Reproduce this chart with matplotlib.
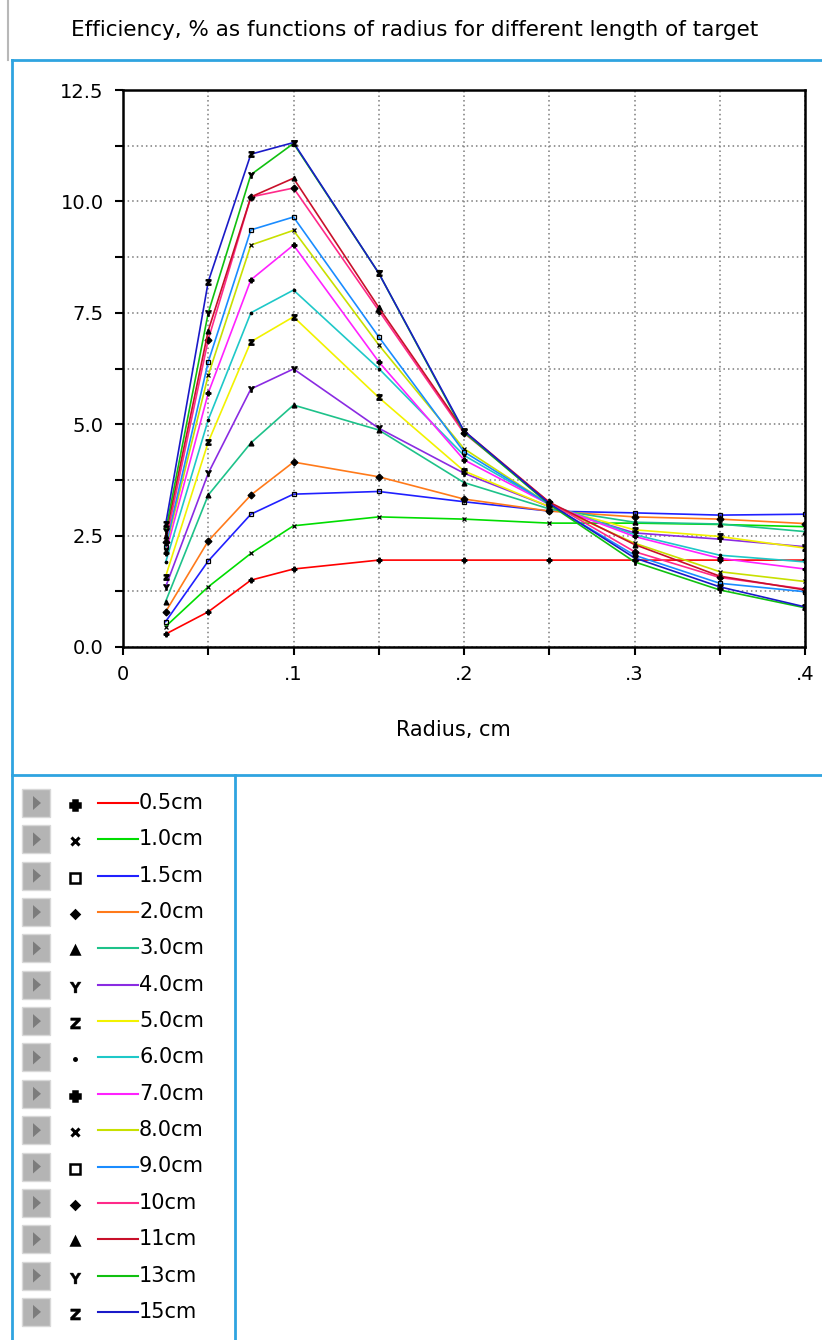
import numpy as np
import matplotlib.pyplot as plt
from matplotlib.patches import Rectangle, Polygon
from matplotlib.ticker import FixedLocator, FixedFormatter


plt.rcParams["font.family"] = ["DejaVu Sans"]

# radius values (cm) at which efficiency was computed
radius = [0.025, 0.05, 0.075, 0.1, 0.15, 0.2, 0.25, 0.3, 0.35, 0.4]

# target lengths
target_labels = ["0.5cm", "1.0cm", "1.5cm", "2.0cm", "3.0cm", "4.0cm", "5.0cm",
                 "6.0cm", "7.0cm", "8.0cm", "9.0cm", "10cm", "11cm", "13cm", "15cm"]

# efficiency, %
eff_0_5 = [0.29, 0.79, 1.50, 1.75, 1.95, 1.95, 1.95, 1.95, 1.95, 1.95]
eff_1_0 = [0.46, 1.35, 2.10, 2.72, 2.92, 2.87, 2.78, 2.78, 2.75, 2.70]
eff_1_5 = [0.57, 1.93, 2.98, 3.43, 3.49, 3.26, 3.05, 3.01, 2.96, 2.98]
eff_2_0 = [0.79, 2.38, 3.41, 4.15, 3.82, 3.32, 3.05, 2.92, 2.87, 2.77]
eff_3_0 = [1.02, 3.41, 4.58, 5.43, 4.87, 3.69, 3.10, 2.80, 2.76, 2.59]
eff_4_0 = [1.35, 3.90, 5.79, 6.24, 4.91, 3.90, 3.15, 2.56, 2.42, 2.25]
eff_5_0 = [1.58, 4.60, 6.85, 7.41, 5.60, 3.95, 3.15, 2.63, 2.48, 2.22]
eff_6_0 = [1.90, 5.10, 7.50, 8.01, 6.25, 4.30, 3.20, 2.52, 2.06, 1.91]
eff_7_0 = [2.10, 5.70, 8.24, 9.02, 6.40, 4.20, 3.20, 2.48, 1.99, 1.75]
eff_8_0 = [2.20, 6.10, 9.02, 9.35, 6.78, 4.45, 3.20, 2.33, 1.69, 1.47]
eff_9_0 = [2.25, 6.40, 9.36, 9.65, 6.96, 4.38, 3.20, 2.06, 1.43, 1.24]
eff_10 = [2.35, 6.90, 10.10, 10.30, 7.55, 4.80, 3.25, 2.14, 1.56, 1.30]
eff_11 = [2.50, 7.10, 10.10, 10.52, 7.62, 4.85, 3.25, 2.30, 1.59, 1.28]
eff_13 = [2.60, 7.50, 10.60, 11.30, 8.39, 4.82, 3.20, 1.91, 1.28, 0.88]
eff_15 = [2.75, 8.20, 11.06, 11.32, 8.39, 4.85, 3.22, 2.00, 1.35, 0.90]

series = [eff_0_5, eff_1_0, eff_1_5, eff_2_0, eff_3_0, eff_4_0, eff_5_0, eff_6_0,
          eff_7_0, eff_8_0, eff_9_0, eff_10, eff_11, eff_13, eff_15]

colors = ["#ff0000", "#00dd00", "#2020ff", "#ff7a1a", "#1ec28a", "#8a2be2", "#f2f200",
          "#1ec8c8", "#ff22ff", "#c8e000", "#1a8cff", "#ff2a8a", "#c8102a", "#10c010",
          "#1a1ac8"]
markers = ["P", "x", "s", "D", "^", r"$\mathbf{Y}$", r"$\mathbf{z}$", "."]
# legend marker sizes, per marker kind
leg_msize = [7, 6, 6.5, 4.5, 6, 8, 8, 3.5]

W, H = 822, 1340
fig = plt.figure(figsize=(W / 100, H / 100), dpi=100)

# window decorations drawn in pixel coordinates
deco = fig.add_axes([0, 0, 1, 1])
deco.set_xlim(0, W)
deco.set_ylim(H, 0)
deco.axis("off")

panel_blue = "#2fa4e0"
deco.plot([8, 8], [0, 60], color="#b8b8b8", lw=1.5)
deco.plot([12, W], [60, 60], color=panel_blue, lw=2)
deco.plot([12, 12], [60, H], color=panel_blue, lw=2)
deco.plot([12, W], [775, 775], color=panel_blue, lw=2)
deco.plot([235, 235], [775, H], color=panel_blue, lw=2)

fig.text(415 / W, 1 - 30 / H, "Efficiency, % as functions of radius for different length of target",
         ha="center", va="center", fontsize=15.5)
fig.text(453 / W, 1 - 730 / H, "Radius, cm", ha="center", va="center", fontsize=15)

# main chart
ax = fig.add_axes([123 / W, 1 - 647 / H, 682 / W, 557 / H])
for i, vals in enumerate(series):
    m = markers[i % len(markers)]
    ax.plot(radius, vals, color=colors[i], lw=1.2, marker=m,
            markersize=4 if m.startswith("$") else 3.5, markeredgewidth=0.9,
            markeredgecolor="black",
            markerfacecolor="none" if m == "s" else "black", zorder=3)

ax.set_xlim(0, 0.4)
ax.set_ylim(0, 12.5)

xt = np.arange(0, 0.4001, 0.05)
xl = ["0", "", ".1", "", ".2", "", ".3", "", ".4"]
ax.xaxis.set_major_locator(FixedLocator(xt))
ax.xaxis.set_major_formatter(FixedFormatter(xl))
yt = np.arange(0, 12.5001, 1.25)
yl = ["%.1f" % v if i % 2 == 0 else "" for i, v in enumerate(yt)]
ax.yaxis.set_major_locator(FixedLocator(yt))
ax.yaxis.set_major_formatter(FixedFormatter(yl))

ax.grid(True, color="#7a7a7a", linestyle=(0, (1, 2)), lw=1.1)
ax.tick_params(direction="out", length=6, width=1.5, labelsize=14, pad=8)
ax.tick_params(axis="x", pad=7)
for s in ax.spines.values():
    s.set_linewidth(1.8)

# legend panel
row0, step = 803, 36.35
for i, lab in enumerate(target_labels):
    yc = row0 + i * step
    k = i % len(markers)
    deco.add_patch(Rectangle((22, yc - 14), 28, 28, facecolor="#b4b4b4",
                             edgecolor="#d8d8d8", lw=1))
    deco.add_patch(Polygon([[33, yc - 7], [33, yc + 7], [41, yc]], closed=True,
                           facecolor="#7c7c7c", edgecolor="none"))
    deco.plot([75], [yc + 2], marker=markers[k], color="black", markersize=leg_msize[k],
              markeredgewidth=2.2 if markers[k] == "x" else (0.3 if markers[k].startswith("$") else 1.8),
              markerfacecolor="none" if markers[k] == "s" else "black")
    deco.plot([98, 138], [yc, yc], color=colors[i], lw=1.5)
    deco.text(139, yc, lab, ha="left", va="center", fontsize=15)

fig.savefig("out.png", dpi=100, facecolor="white")
